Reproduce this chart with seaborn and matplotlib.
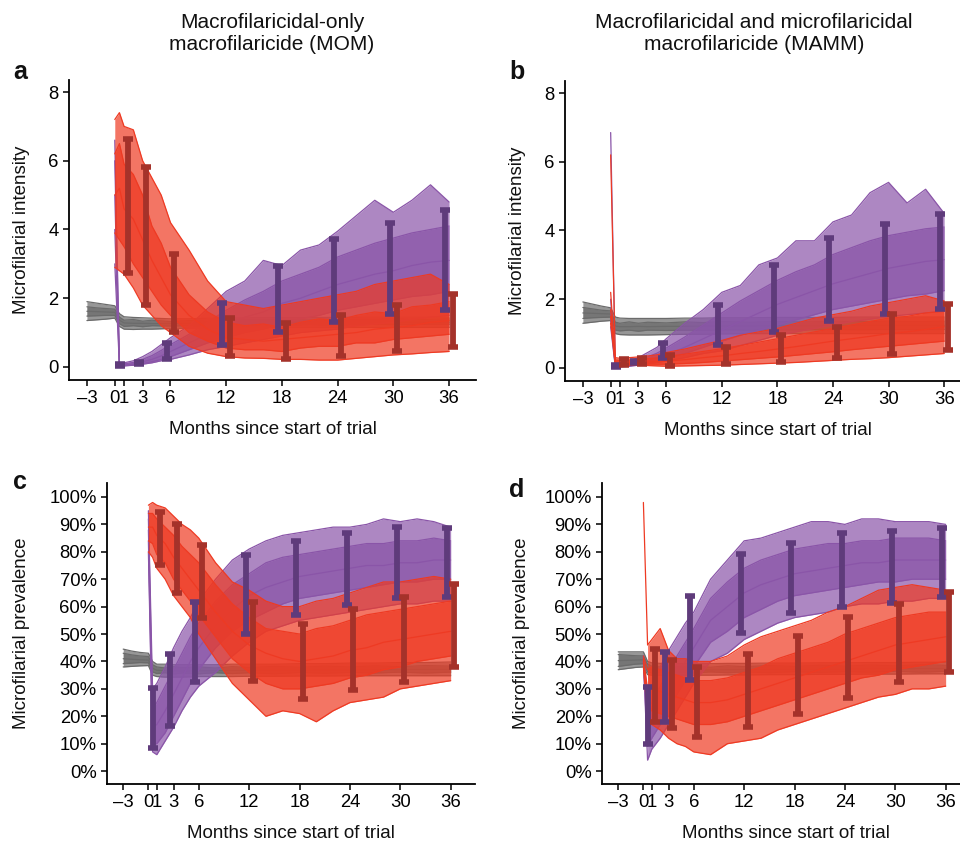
import numpy as np
import pandas as pd
import matplotlib
matplotlib.use("Agg")
import matplotlib.pyplot as plt
import seaborn as sns

T_GREY = [-3, -2, -1, 0, 0.5, 1, 2, 3, 4, 6, 8, 10, 12, 15, 18, 21, 24, 27, 30, 33, 36]
T_RUN = [0, 0.5, 1, 2, 3, 4, 5, 6, 8, 10, 12, 14, 16, 18, 20, 22, 24, 26, 28, 30, 32, 34, 36]
BAR_MONTHS = [1, 3, 6, 12, 18, 24, 30, 36]
XTICKS = [-3, 0, 1, 3, 6, 12, 18, 24, 30, 36]

# ---- panel a : intensity, MOM ----
A_GREY_LO = [1.35, 1.37, 1.39, 1.42, 1.18, 1.1, 1.09, 1.1, 1.1, 1.12, 1.13, 1.13, 1.14, 1.15, 1.15, 1.15, 1.15, 1.15, 1.15, 1.15, 1.15]
A_GREY_HI = [1.9, 1.86, 1.82, 1.78, 1.55, 1.46, 1.44, 1.43, 1.42, 1.4, 1.4, 1.42, 1.42, 1.43, 1.43, 1.44, 1.44, 1.45, 1.45, 1.45, 1.45]
A_GREY_RUNS = [
    [1.75, 1.72, 1.7, 1.68, 1.45, 1.36, 1.38, 1.33, 1.36, 1.32, 1.35, 1.33, 1.37, 1.36, 1.38, 1.37, 1.39, 1.38, 1.4, 1.38, 1.4],
    [1.62, 1.61, 1.6, 1.59, 1.36, 1.28, 1.27, 1.27, 1.26, 1.26, 1.27, 1.27, 1.28, 1.29, 1.29, 1.3, 1.3, 1.3, 1.3, 1.3, 1.3],
    [1.48, 1.49, 1.5, 1.5, 1.26, 1.18, 1.2, 1.17, 1.2, 1.19, 1.2, 1.19, 1.22, 1.21, 1.22, 1.23, 1.22, 1.24, 1.23, 1.24, 1.24],
]
A_PUR_LO = [3.0, 0.03, 0.03, 0.05, 0.08, 0.12, 0.18, 0.22, 0.35, 0.5, 0.6, 0.7, 0.8, 0.9, 1.0, 1.05, 1.1, 1.2, 1.25, 1.3, 1.38, 1.45, 1.5]
A_PUR_HI = [6.6, 0.12, 0.12, 0.18, 0.3, 0.45, 0.65, 0.85, 1.2, 1.7, 2.2, 2.5, 3.1, 2.95, 3.4, 3.55, 3.95, 4.4, 4.85, 4.5, 4.85, 5.3, 4.8]
A_PUR_RUNS = [
    [6.0, 0.09, 0.09, 0.13, 0.22, 0.33, 0.48, 0.65, 0.95, 1.3, 1.65, 1.95, 2.2, 2.5, 2.7, 2.9, 3.2, 3.4, 3.6, 3.75, 3.9, 4.0, 4.1],
    [5.0, 0.06, 0.06, 0.09, 0.15, 0.22, 0.32, 0.45, 0.7, 0.95, 1.2, 1.45, 1.6, 1.85, 2.0, 2.2, 2.4, 2.55, 2.7, 2.8, 2.95, 3.05, 3.1],
    [4.0, 0.04, 0.04, 0.06, 0.1, 0.15, 0.22, 0.3, 0.5, 0.7, 0.85, 1.0, 1.1, 1.25, 1.4, 1.5, 1.65, 1.75, 1.85, 1.95, 2.05, 2.1, 2.2],
]
A_RED_LO = [2.9, 2.8, 2.7, 2.3, 1.8, 1.5, 1.2, 1.0, 0.6, 0.4, 0.3, 0.26, 0.25, 0.22, 0.22, 0.2, 0.2, 0.25, 0.3, 0.35, 0.38, 0.42, 0.45]
A_RED_HI = [7.2, 7.4, 7.0, 6.9, 6.0, 5.5, 5.0, 4.2, 3.4, 2.5, 1.9, 1.8, 1.7, 1.8, 1.9, 2.0, 2.1, 2.2, 2.4, 2.5, 2.6, 2.7, 2.4]
A_RED_RUNS = [
    [6.2, 6.5, 5.9, 5.6, 5.0, 4.1, 3.6, 2.9, 2.1, 1.6, 1.3, 1.2, 1.25, 1.15, 1.3, 1.4, 1.35, 1.5, 1.6, 1.55, 1.75, 1.8, 1.9],
    [5.0, 5.2, 4.6, 4.3, 3.7, 3.1, 2.6, 2.1, 1.5, 1.1, 0.85, 0.8, 0.75, 0.8, 0.85, 0.9, 0.95, 1.0, 1.1, 1.15, 1.2, 1.3, 1.35],
    [3.9, 3.7, 3.5, 3.0, 2.6, 2.2, 1.8, 1.5, 1.0, 0.75, 0.55, 0.5, 0.5, 0.45, 0.55, 0.6, 0.6, 0.7, 0.7, 0.8, 0.85, 0.9, 0.95],
]
A_BAR_PUR_LO = [0.04, 0.1, 0.23, 0.64, 1.02, 1.31, 1.54, 1.66]
A_BAR_PUR_HI = [0.08, 0.15, 0.7, 1.86, 2.94, 3.72, 4.19, 4.56]
A_BAR_RED_LO = [2.73, 1.8, 1.02, 0.32, 0.23, 0.32, 0.47, 0.58]
A_BAR_RED_HI = [6.63, 5.81, 3.28, 1.42, 1.28, 1.51, 1.8, 2.12]

# ---- panel b : intensity, MAMM ----
B_GREY_LO = [1.3, 1.33, 1.36, 1.38, 1.0, 0.97, 0.96, 0.96, 0.96, 0.97, 0.98, 0.98, 0.99, 1.0, 1.0, 1.0, 1.0, 1.0, 1.0, 1.0, 1.0]
B_GREY_HI = [1.92, 1.86, 1.8, 1.75, 1.48, 1.45, 1.44, 1.44, 1.44, 1.44, 1.45, 1.45, 1.46, 1.46, 1.47, 1.47, 1.47, 1.48, 1.48, 1.48, 1.48]
B_GREY_RUNS = [
    [1.76, 1.72, 1.68, 1.66, 1.33, 1.3, 1.34, 1.3, 1.33, 1.31, 1.34, 1.32, 1.35, 1.33, 1.35, 1.34, 1.36, 1.35, 1.36, 1.35, 1.36],
    [1.6, 1.59, 1.58, 1.57, 1.22, 1.2, 1.2, 1.21, 1.2, 1.21, 1.21, 1.22, 1.22, 1.22, 1.23, 1.23, 1.23, 1.24, 1.24, 1.24, 1.24],
    [1.44, 1.46, 1.47, 1.48, 1.1, 1.08, 1.1, 1.07, 1.1, 1.09, 1.1, 1.09, 1.11, 1.1, 1.11, 1.11, 1.12, 1.11, 1.12, 1.12, 1.12],
]
B_PUR_LO = [1.2, 0.03, 0.03, 0.05, 0.08, 0.12, 0.16, 0.2, 0.3, 0.42, 0.5, 0.65, 0.8, 0.95, 1.05, 1.15, 1.25, 1.35, 1.42, 1.5, 1.55, 1.6, 1.65]
B_PUR_HI = [6.85, 0.12, 0.12, 0.2, 0.3, 0.45, 0.6, 0.85, 1.3, 1.7, 2.2, 2.4, 3.0, 3.2, 3.7, 3.7, 4.25, 4.45, 5.1, 5.4, 4.8, 5.2, 4.5]
B_PUR_RUNS = [
    [2.0, 0.09, 0.09, 0.14, 0.22, 0.32, 0.43, 0.58, 0.9, 1.25, 1.6, 1.95, 2.25, 2.55, 2.8, 3.0, 3.3, 3.5, 3.7, 3.85, 3.95, 4.05, 4.1],
    [1.6, 0.06, 0.06, 0.09, 0.14, 0.21, 0.29, 0.38, 0.6, 0.85, 1.1, 1.35, 1.6, 1.85, 2.05, 2.25, 2.45, 2.6, 2.75, 2.9, 3.0, 3.1, 3.15],
    [1.4, 0.04, 0.04, 0.06, 0.1, 0.15, 0.2, 0.27, 0.42, 0.6, 0.78, 0.95, 1.1, 1.25, 1.4, 1.55, 1.7, 1.8, 1.9, 2.0, 2.1, 2.15, 2.25],
]
B_RED_LO = [1.3, 0.1, 0.08, 0.08, 0.08, 0.07, 0.06, 0.05, 0.06, 0.07, 0.08, 0.1, 0.12, 0.14, 0.16, 0.19, 0.22, 0.25, 0.27, 0.3, 0.34, 0.38, 0.42]
B_RED_HI = [6.2, 0.3, 0.28, 0.3, 0.32, 0.35, 0.38, 0.45, 0.55, 0.68, 0.8, 0.95, 1.05, 1.15, 1.3, 1.45, 1.55, 1.65, 1.8, 1.9, 2.0, 2.1, 1.95]
B_RED_RUNS = [
    [2.2, 0.23, 0.22, 0.23, 0.25, 0.27, 0.29, 0.33, 0.4, 0.48, 0.56, 0.65, 0.75, 0.85, 0.95, 1.05, 1.15, 1.25, 1.35, 1.45, 1.5, 1.6, 1.65],
    [1.7, 0.17, 0.16, 0.16, 0.17, 0.17, 0.18, 0.2, 0.24, 0.3, 0.35, 0.42, 0.48, 0.55, 0.62, 0.7, 0.78, 0.85, 0.92, 1.0, 1.05, 1.12, 1.2],
    [1.5, 0.12, 0.11, 0.11, 0.11, 0.11, 0.11, 0.11, 0.13, 0.16, 0.2, 0.24, 0.28, 0.32, 0.37, 0.42, 0.47, 0.53, 0.58, 0.63, 0.68, 0.73, 0.78],
]
B_BAR_PUR_LO = [0.04, 0.13, 0.3, 0.67, 1.05, 1.37, 1.57, 1.72]
B_BAR_PUR_HI = [0.09, 0.2, 0.72, 1.84, 3.0, 3.79, 4.2, 4.49]
B_BAR_RED_LO = [0.1, 0.12, 0.05, 0.12, 0.17, 0.29, 0.41, 0.52]
B_BAR_RED_HI = [0.25, 0.28, 0.38, 0.61, 0.96, 1.2, 1.57, 1.87]

# ---- panel c : prevalence (%), MOM ----
C_GREY_LO = [38, 38.2, 38.4, 38.5, 35, 34.5, 34.3, 34.3, 34.3, 34.5, 34.5, 34.5, 34.6, 34.6, 34.7, 34.7, 34.8, 34.8, 34.8, 34.8, 34.8]
C_GREY_HI = [44.5, 43.8, 43.3, 43, 40, 39, 39, 38.8, 38.8, 38.8, 38.8, 39, 39, 39, 39.2, 39.2, 39.4, 39.4, 39.6, 39.6, 39.8]
C_GREY_RUNS = [
    [43, 42.4, 42, 41.8, 38.8, 38, 37.6, 38.1, 37.7, 38, 37.6, 38.1, 37.8, 38.2, 37.9, 38.3, 38, 38.4, 38.1, 38.5, 38.3],
    [41, 40.8, 40.6, 40.5, 37.5, 36.8, 36.6, 36.6, 36.5, 36.6, 36.6, 36.7, 36.7, 36.8, 36.8, 36.9, 36.9, 37, 37, 37.1, 37.1],
    [39.2, 39.4, 39.6, 39.5, 36.2, 35.6, 35.9, 35.4, 35.8, 35.5, 35.9, 35.6, 35.9, 35.5, 36, 35.7, 36, 35.8, 36.1, 35.8, 36.1],
]
C_PUR_LO = [80, 7, 6, 11, 16, 22, 27, 31, 36, 42, 47, 51, 53, 55, 56, 57, 58, 59, 60, 61, 61, 62, 62]
C_PUR_HI = [95, 30, 32, 38, 45, 51, 56, 62, 70, 77, 81, 84, 86, 87, 88, 89, 89, 90, 92, 91, 92, 91, 89]
C_PUR_RUNS = [
    [92, 23, 25, 31, 37, 43, 49, 54, 62, 68, 72, 76, 78, 79, 80, 81, 82, 83, 83, 84, 84, 85, 84],
    [88, 16, 17, 22, 28, 34, 40, 45, 53, 59, 64, 67, 69, 71, 72, 73, 74, 75, 75, 76, 76, 77, 77],
    [84, 10, 10, 14, 20, 26, 32, 37, 45, 51, 55, 58, 61, 63, 64, 65, 66, 67, 68, 69, 69, 70, 70],
]
C_RED_LO = [80, 78, 74, 70, 64, 60, 56, 50, 41, 32, 26, 20, 22, 21, 18, 22, 25, 26, 27, 30, 31, 32, 33]
C_RED_HI = [97, 98, 97, 96, 93, 90, 88, 85, 76, 69, 66, 62, 60, 60, 62, 63, 65, 67, 69, 69, 70, 71, 70]
C_RED_RUNS = [
    [94, 94, 92, 89, 86, 82, 79, 76, 68, 61, 56, 52, 51, 50, 52, 53, 55, 57, 58, 59, 60, 61, 62],
    [89, 89, 86, 83, 78, 74, 70, 66, 58, 51, 46, 43, 41, 40, 41, 42, 44, 45, 47, 48, 49, 50, 51],
    [84, 83, 79, 76, 70, 66, 62, 57, 49, 41, 36, 32, 30, 30, 31, 32, 34, 35, 37, 38, 40, 41, 42],
]
C_BAR_PUR_LO = [8.4, 16.4, 32.5, 50, 56.9, 60.6, 63.1, 63.5]
C_BAR_PUR_HI = [30.3, 42.7, 61.7, 78.8, 83.9, 86.9, 89.1, 88.7]
C_BAR_RED_LO = [75.2, 65, 55.8, 32.8, 26.3, 29.6, 32.5, 38]
C_BAR_RED_HI = [94.5, 90.1, 82.5, 61.7, 53.6, 59.1, 63.5, 68.2]

# ---- panel d : prevalence (%), MAMM ----
D_GREY_LO = [37, 37.4, 37.8, 38, 35.2, 35, 35, 35, 35, 35, 35, 35.1, 35.1, 35.2, 35.2, 35.3, 35.3, 35.4, 35.4, 35.5, 35.5]
D_GREY_HI = [43.5, 43.5, 43.5, 43.5, 40, 39.5, 39.3, 39.2, 39.2, 39.2, 39.2, 39.3, 39.3, 39.4, 39.4, 39.5, 39.5, 39.6, 39.6, 39.7, 39.7]
D_GREY_RUNS = [
    [42.5, 42.3, 42.1, 42, 39, 38.3, 38, 38.4, 38, 38.3, 37.9, 38.4, 38.1, 38.5, 38.2, 38.6, 38.3, 38.7, 38.4, 38.8, 38.6],
    [40.3, 40.4, 40.5, 40.6, 37.6, 37, 36.9, 36.9, 36.8, 36.9, 36.9, 37, 37, 37.1, 37.1, 37.2, 37.2, 37.3, 37.3, 37.4, 37.4],
    [38.2, 38.6, 39, 39.2, 36.2, 35.8, 36.1, 35.7, 36.1, 35.8, 36.2, 35.9, 36.2, 35.9, 36.3, 36, 36.3, 36.1, 36.4, 36.1, 36.4],
]
D_PUR_LO = [40, 4, 8, 12, 17, 22, 27, 32, 40, 43, 48, 51, 54, 56, 57, 58, 60, 61, 61, 62, 62, 63, 63]
D_PUR_HI = [42, 28, 31, 38, 44, 49, 54, 58, 70, 77, 84, 85, 87, 89, 91, 91, 90, 92, 92, 91, 91, 91, 90]
D_PUR_RUNS = [
    [42, 22, 25, 31, 37, 42, 47, 52, 63, 69, 74, 77, 79, 81, 82, 83, 83, 84, 84, 85, 85, 85, 84],
    [41, 15, 18, 24, 30, 35, 40, 45, 55, 60, 65, 68, 70, 72, 73, 74, 75, 76, 76, 77, 77, 77, 77],
    [40, 9, 12, 17, 23, 28, 33, 38, 47, 51, 56, 59, 62, 64, 65, 66, 67, 68, 69, 69, 70, 70, 70],
]
D_RED_LO = [38, 20, 17, 15, 12, 10, 9, 7, 6, 10, 11, 12, 15, 17, 19, 21, 23, 25, 27, 28, 30, 30, 31]
D_RED_HI = [98, 46, 48, 52, 44, 41, 41, 40, 40, 42, 46, 49, 51, 53, 55, 58, 60, 63, 66, 67, 68, 67, 66]
D_RED_RUNS = [
    [42, 37, 38, 37, 36, 35, 34, 33, 33, 34, 36, 38, 41, 43, 45, 47, 50, 52, 54, 56, 57, 58, 58],
    [41, 30, 30, 29, 28, 27, 26, 25, 25, 26, 28, 30, 32, 34, 36, 38, 40, 42, 44, 46, 47, 48, 49],
    [40, 24, 22, 21, 20, 19, 18, 17, 17, 18, 20, 22, 24, 26, 28, 30, 32, 34, 35, 37, 38, 39, 40],
]
D_BAR_PUR_LO = [9.9, 17.9, 33.2, 50.4, 57.7, 59.9, 61.3, 63.5]
D_BAR_PUR_HI = [30.7, 43.4, 63.9, 79.2, 83.2, 86.9, 87.6, 88.7]
D_BAR_RED_LO = [17.9, 15.7, 12.4, 16.1, 20.8, 26.6, 32.5, 36.1]
D_BAR_RED_HI = [44.5, 40.5, 38, 42.7, 49.3, 56.2, 60.9, 65.3]

GREY = "#6b6b6b"
PURPLE = "#8a55a8"
RED = "#ee3a23"
PURPLE_BAR = "#5f3b7b"
RED_BAR = "#a5322a"

sns.set_theme(style="ticks", rc={
    "axes.edgecolor": "black", "axes.linewidth": 1.3,
    "xtick.color": "black", "ytick.color": "black",
    "text.color": "#111111", "axes.labelcolor": "#111111",
})
plt.rcParams["font.family"] = ["Liberation Sans", "DejaVu Sans"]


def draw_group(ax, t, lo, hi, runs, color, z, start=0):
    t = np.asarray(t, float)
    ax.fill_between(t[start:], np.asarray(lo)[start:], np.asarray(hi)[start:],
                    color=color, alpha=0.7, lw=0, zorder=z)
    ax.fill_between(t[start:], np.asarray(runs[-1])[start:], np.asarray(runs[0])[start:],
                    color=color, alpha=0.75, lw=0, zorder=z)
    rows = []
    for i, series in enumerate([lo, hi] + runs):
        rows.append(pd.DataFrame({"month": t, "value": series, "run": i}))
    df = pd.concat(rows, ignore_index=True)
    sns.lineplot(data=df, x="month", y="value", units="run", estimator=None,
                 color=color, lw=0.9, sort=False, legend=False, ax=ax, zorder=z + 0.5)


def draw_bars(ax, lo, hi, color, shift):
    x = np.array(BAR_MONTHS, float) + shift
    lo, hi = np.array(lo), np.array(hi)
    mid = (lo + hi) / 2
    ax.errorbar(x, mid, yerr=[mid - lo, hi - mid], fmt="none", ecolor=color,
                elinewidth=4.2, capsize=3.8, capthick=4.0, zorder=6)


W, H = 960, 843
fig = plt.figure(figsize=(9.6, 8.43), dpi=100)

panels = [
    # letter, rect in px (left, bottom, width, height), ylabel x px, ylim, red band start, data
    ("a", (69, 380, 407, 300), 22, (-0.38, 8.35), 0,
     (A_GREY_LO, A_GREY_HI, A_GREY_RUNS), (A_PUR_LO, A_PUR_HI, A_PUR_RUNS), (A_RED_LO, A_RED_HI, A_RED_RUNS),
     (A_BAR_PUR_LO, A_BAR_PUR_HI, A_BAR_RED_LO, A_BAR_RED_HI)),
    ("b", (565, 381, 406, 300), 518, (-0.38, 8.35), 1,
     (B_GREY_LO, B_GREY_HI, B_GREY_RUNS), (B_PUR_LO, B_PUR_HI, B_PUR_RUNS), (B_RED_LO, B_RED_HI, B_RED_RUNS),
     (B_BAR_PUR_LO, B_BAR_PUR_HI, B_BAR_RED_LO, B_BAR_RED_HI)),
    ("c", (107, 784, 368, 301), 22, (-4.7, 105.1), 0,
     (C_GREY_LO, C_GREY_HI, C_GREY_RUNS), (C_PUR_LO, C_PUR_HI, C_PUR_RUNS), (C_RED_LO, C_RED_HI, C_RED_RUNS),
     (C_BAR_PUR_LO, C_BAR_PUR_HI, C_BAR_RED_LO, C_BAR_RED_HI)),
    ("d", (602, 784, 368, 301), 522, (-4.7, 105.1), 1,
     (D_GREY_LO, D_GREY_HI, D_GREY_RUNS), (D_PUR_LO, D_PUR_HI, D_PUR_RUNS), (D_RED_LO, D_RED_HI, D_RED_RUNS),
     (D_BAR_PUR_LO, D_BAR_PUR_HI, D_BAR_RED_LO, D_BAR_RED_HI)),
]

for letter, (l, b, w, h), ylab_x, ylim, red_start, grey, pur, red, bars in panels:
    ax = fig.add_axes([l / W, 1 - b / H, w / W, h / H])
    draw_group(ax, T_GREY, *grey, GREY, z=1)
    draw_group(ax, T_RUN, *pur, PURPLE, z=2, start=1)
    draw_group(ax, T_RUN, *red, RED, z=3, start=red_start)
    draw_bars(ax, bars[0], bars[1], PURPLE_BAR, -0.4)
    draw_bars(ax, bars[2], bars[3], RED_BAR, 0.4)

    ax.set_xlim(-4.93, 38.9)
    ax.set_ylim(*ylim)
    ax.set_xticks(XTICKS)
    ax.set_xticklabels([f"{v}" if v >= 0 else f"\u2013{abs(v)}" for v in XTICKS])
    ax.set_xlabel("Months since start of trial", fontsize=13.5, labelpad=10)
    if letter in "ab":
        ax.set_yticks([0, 2, 4, 6, 8])
        ax.set_ylabel("Microfilarial intensity", fontsize=13.5)
    else:
        ax.set_yticks(range(0, 101, 10))
        ax.set_yticklabels([f"{v}%" for v in range(0, 101, 10)])
        ax.set_ylabel("Microfilarial prevalence", fontsize=13.5)
    ax.yaxis.set_label_coords((ylab_x - l) / w, 0.5)
    ax.yaxis.label.set_verticalalignment("center")
    ax.tick_params(direction="out", length=4, width=1.1, labelsize=13.3, pad=3.5)
    sns.despine(ax=ax)
    ax.grid(False)

letters = {"a": (20, 72), "b": (517, 72), "c": (20, 482), "d": (517, 490)}
for k, (x, y) in letters.items():
    fig.text(x / W, 1 - y / H, k, fontsize=18, fontweight="bold", ha="center", va="center")

fig.text(272 / W, 1 - 33 / H, "Macrofilaricidal-only\nmacrofilaricide (MOM)",
         fontsize=15, ha="center", va="center", linespacing=1.2)
fig.text(754 / W, 1 - 33 / H, "Macrofilaricidal and microfilaricidal\nmacrofilaricide (MAMM)",
         fontsize=15, ha="center", va="center", linespacing=1.2)

fig.savefig("out.png", dpi=100)
